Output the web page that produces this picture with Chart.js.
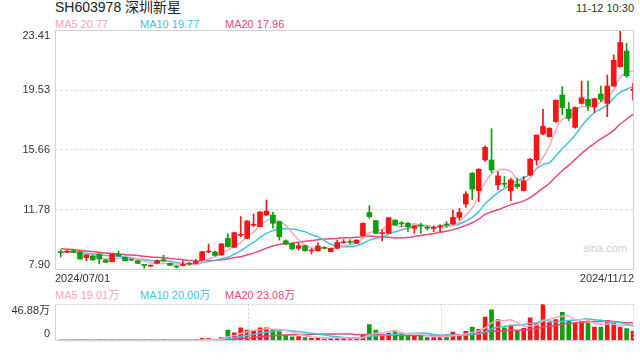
<!DOCTYPE html>
<html><head><meta charset="utf-8">
<script src="https://cdn.jsdelivr.net/npm/chart.js@4.4.0/dist/chart.umd.min.js"></script>
<style>
html,body{margin:0;padding:0;background:#fff;}
body{width:640px;height:360px;position:relative;overflow:hidden;font-family:"Liberation Sans","Noto Sans CJK SC",Arial,sans-serif;}
.t{position:absolute;white-space:nowrap;line-height:1;}
canvas{position:absolute;left:0;}
</style></head><body>
<div class="t" id="title" style="left:55px;top:0px;font-size:14px;color:#222;"></div>
<div class="t" id="time" style="right:6px;top:3px;font-size:11px;color:#333;"></div>
<div class="t" id="pl0" style="left:55px;top:19px;font-size:11px;"></div>
<div class="t" id="pl1" style="left:140px;top:19px;font-size:11px;"></div>
<div class="t" id="pl2" style="left:225px;top:19px;font-size:11px;"></div>
<div class="t" id="vl0" style="left:55px;top:290px;font-size:11px;"></div>
<div class="t" id="vl1" style="left:140px;top:290px;font-size:11px;"></div>
<div class="t" id="vl2" style="left:225px;top:290px;font-size:11px;"></div>
<div class="t" id="wm" style="left:583px;top:243px;font-size:11px;color:#cfcfcf;"></div>
<canvas id="price" width="640" height="290" style="top:0"></canvas>
<canvas id="vol" width="640" height="75" style="top:285px"></canvas>
<script>
// ---- data ----
const titleText = 'SH603978 深圳新星';
const timeText = '11-12 10:30';
const priceLegend = ['MA5 20.77', 'MA10 19.77', 'MA20 17.96'];
const volLegend = ['MA5 19.01万', 'MA10 20.00万', 'MA20 23.08万'];
const xTickLabels = ['2024/07/01', '2024/11/12'];
const priceTicks = [7.90, 11.78, 15.66, 19.53, 23.41];
const priceTickLabels = ['7.90', '11.78', '15.66', '19.53', '23.41'];
const volTicks = [0, 46.88];
const volTickLabels = ['0', '46.88万'];

const opens  = [9.06,9.06,9.15,9.08,8.70,8.80,8.93,8.55,8.44,8.93,8.72,8.56,8.50,8.24,8.15,8.33,8.52,8.33,8.13,8.19,8.30,8.33,8.55,9.06,9.07,8.87,9.95,9.37,10.14,9.95,10.79,10.70,11.45,11.45,11.03,9.79,9.62,9.30,9.47,9.13,9.15,9.32,9.09,9.30,9.66,9.70,9.62,10.12,11.61,11.09,10.25,10.27,11.13,10.90,10.92,10.60,10.76,10.62,10.58,10.68,10.83,10.87,11.30,12.16,14.15,13.03,15.01,15.01,13.40,13.47,13.03,13.46,13.03,14.04,15.01,16.69,16.52,17.49,19.21,18.29,17.12,18.67,18.93,18.42,19.27,18.67,19.79,21.04,22.05,19.52];
const highs  = [9.19,9.15,9.17,9.10,8.88,8.82,8.95,8.57,8.95,9.13,8.74,8.58,8.52,8.26,8.22,8.55,8.85,8.35,8.16,8.50,8.40,8.59,9.10,9.58,9.12,9.62,10.23,10.35,11.35,11.10,11.52,11.68,12.42,11.63,11.05,9.85,9.65,9.62,9.50,9.28,9.66,9.41,9.32,9.83,9.87,9.87,9.86,10.95,12.06,11.12,10.49,11.30,11.15,11.03,10.98,10.77,10.92,10.75,10.75,10.83,11.03,11.78,11.88,12.96,14.20,14.45,15.92,17.03,14.26,13.94,13.83,13.83,13.94,15.12,16.63,18.29,17.10,18.90,19.75,18.74,18.45,20.11,20.11,19.00,19.79,20.50,21.80,23.35,22.55,19.96];
const lows   = [8.74,9.00,9.02,8.60,8.50,8.53,8.29,8.38,8.42,8.78,8.48,8.50,8.31,8.01,8.12,8.30,8.48,8.18,8.02,8.16,8.20,8.31,8.52,9.02,8.80,8.85,9.38,9.35,10.05,9.92,10.70,10.68,11.43,10.60,9.83,9.55,9.22,9.19,9.12,8.94,9.12,9.26,9.07,9.28,9.62,9.58,9.60,10.10,11.24,10.25,9.79,10.25,10.79,10.70,10.38,10.27,10.27,10.49,10.38,10.36,10.66,10.85,11.13,11.95,12.44,12.32,14.91,14.19,13.07,13.29,12.38,13.18,13.00,13.98,14.69,16.63,16.48,17.43,17.92,17.56,17.06,18.62,18.20,18.07,18.78,17.81,19.75,21.00,20.35,18.88];
const closes = [9.02,9.08,9.04,8.61,8.87,8.55,8.61,8.40,8.93,8.80,8.50,8.54,8.33,8.20,8.17,8.50,8.50,8.20,8.10,8.21,8.28,8.44,9.08,9.08,8.84,9.58,9.41,10.31,10.16,11.07,10.81,11.65,11.71,10.92,10.05,9.58,9.26,9.47,9.15,9.15,9.45,9.30,9.30,9.68,9.68,9.68,9.83,10.92,11.35,10.27,10.27,11.28,10.81,10.88,10.70,10.75,10.74,10.60,10.60,10.70,10.81,11.30,11.63,12.81,13.12,14.41,15.83,14.36,13.98,13.44,13.72,13.29,13.66,15.06,16.62,17.18,17.06,18.87,18.40,17.70,18.40,19.03,18.50,18.97,18.93,19.79,21.45,22.60,20.45,19.55];
// volume in 万
const volumes = [1.6,1.2,1.0,1.8,1.3,1.2,1.7,1.0,1.6,1.4,1.2,0.9,1.1,1.4,0.9,1.3,1.5,1.0,0.9,1.2,0.9,1.5,3.8,3.8,2.5,4.7,14.1,10.6,16.8,14.1,13.5,16.8,16.8,14.7,12.1,7.5,5.6,5.9,4.7,3.8,4.7,2.9,3.8,4.7,4.1,4.1,2.9,7.8,20.9,14.1,6.8,10.3,13.1,9.4,7.1,7.1,7.1,4.7,4.7,6.2,7.8,11.5,7.8,12.5,17.8,15.0,30.3,39.6,27.2,16.8,20.3,13.5,16.2,29.5,22.8,46.88,23.4,27.2,36.5,25.6,22.8,24.4,22.5,17.8,17.8,26.2,22.5,17.8,15.9,12.5];
// closes / volumes of the 19 sessions before 2024/07/01 (for the moving averages)
const preCloses = [9.70,9.62,9.58,9.55,9.50,9.46,9.48,9.42,9.40,9.39,9.10,9.02,8.98,9.06,9.05,9.00,9.08,9.04,9.10];
const preVolumes = [1.4,1.6,1.3,1.5,1.2,1.8,1.4,1.3,1.6,1.5,1.2,1.4,1.7,1.3,1.5,1.2,1.6,1.4,1.3];

// ---- styles ----
const RED = '#f21616', GREEN = '#0e9e0e';
const C5 = '#f7a6c4', C10 = '#3fc4e0', C20 = '#ee457c';
const X_MIN = -0.88, X_MAX = 89.15;

document.getElementById('title').textContent = titleText;
document.getElementById('time').textContent = timeText;
[C5, C10, C20].forEach((c, k) => {
  const p = document.getElementById('pl' + k); p.textContent = priceLegend[k]; p.style.color = c;
  const v = document.getElementById('vl' + k); v.textContent = volLegend[k]; v.style.color = c;
});
document.getElementById('wm').textContent = 'sina.com';

function movingAvg(pre, vals, n) {
  const all = pre.concat(vals);
  return vals.map((_, i) => {
    const j = i + pre.length;
    let s = 0;
    for (let k = j - n + 1; k <= j; k++) s += all[k];
    return { x: i, y: s / n };
  });
}
const up = closes.map((c, i) => c >= opens[i]);
const candleColors = up.map(u => u ? RED : GREEN);

const framePlugin = {
  id: 'frame',
  afterDatasetsDraw(chart, args, opts) {
    const { ctx, chartArea: a } = chart;
    ctx.save();
    ctx.strokeStyle = '#d2d2d2';
    ctx.lineWidth = 1;
    const L = Math.round(a.left) + 0.5, R = Math.round(a.right) - 0.5, T = Math.round(a.top) + 0.5, B = Math.round(a.bottom) - 0.5;
    const seg = (x1, y1, x2, y2, dotted) => {
      ctx.setLineDash(dotted ? [2, 2] : []);
      ctx.strokeStyle = dotted ? '#cfcfcf' : '#d2d2d2';
      ctx.beginPath(); ctx.moveTo(x1, y1); ctx.lineTo(x2, y2); ctx.stroke();
    };
    const s = opts.sides;
    seg(L, T, R, T, s.top === 'dot');
    seg(L, B, R, B, s.bottom === 'dot');
    seg(L, T, L, B, s.left === 'dot');
    seg(R, T, R, B, s.right === 'dot');
    if (opts.vthirds) {
      for (let k = 1; k <= 2; k++) {
        const x = Math.round(a.left + (a.right - a.left) * k / 3) + 0.5;
        seg(x, T, x, B, true);
      }
    }
    ctx.restore();
  }
};

const commonX = {
  type: 'linear', min: X_MIN, max: X_MAX, bounds: 'data', offset: false,
  grid: { display: false, drawTicks: false }, border: { display: false }
};

// ---- price chart ----
new Chart(document.getElementById('price'), {
  type: 'bar',
  data: {
    datasets: [
      { type: 'bar', data: opens.map((o, i) => ({ x: i, y: [o, closes[i]] })), backgroundColor: candleColors,
        barThickness: 5, minBarLength: 1, grouped: false, order: 0 },
      { type: 'bar', data: lows.map((l, i) => ({ x: i, y: [l, highs[i]] })), backgroundColor: candleColors,
        barThickness: 1, grouped: false, order: 1 },
      { type: 'line', data: movingAvg(preCloses, closes, 5), borderColor: C5, borderWidth: 1.5, pointRadius: 0, tension: 0.4, order: 2 },
      { type: 'line', data: movingAvg(preCloses, closes, 10), borderColor: C10, borderWidth: 1.5, pointRadius: 0, tension: 0.4, order: 3 },
      { type: 'line', data: movingAvg(preCloses, closes, 20), borderColor: C20, borderWidth: 1.5, pointRadius: 0, tension: 0.4, order: 4 }
    ]
  },
  options: {
    responsive: false, animation: false, devicePixelRatio: 1,
    layout: { padding: { top: 30, right: 6, left: 0, bottom: 0 } },
    plugins: { legend: { display: false }, tooltip: { enabled: false },
      frame: { sides: { top: 'solid', bottom: 'solid', left: 'solid', right: 'solid' } } },
    scales: {
      x: Object.assign({}, commonX, {
        afterBuildTicks: s => { s.ticks = [{ value: X_MIN }, { value: X_MAX }]; },
        afterFit: s => { s.height = 20; },
        ticks: { align: 'inner', maxRotation: 0, autoSkip: false, padding: 2, color: '#333',
          font: { size: 11, family: '"Liberation Sans", Arial, sans-serif' }, callback: (v, i) => xTickLabels[i] }
      }),
      y: {
        type: 'linear', min: priceTicks[0], max: priceTicks[priceTicks.length - 1], bounds: 'data',
        afterBuildTicks: s => { s.ticks = priceTicks.map(v => ({ value: v })); },
        afterFit: s => { s.width = 55; },
        grid: { drawTicks: false, lineWidth: 1,
          color: c => (c.index === 0 || c.index === priceTicks.length - 1) ? 'rgba(0,0,0,0)' : '#dcdcdc' },
        border: { display: false, dash: [3, 2] },
        ticks: { padding: 5, autoSkip: false, color: '#333',
          font: { size: 11, lineHeight: 1.0, family: '"Liberation Sans", Arial, sans-serif' },
          callback: (v, i) => i === 0 ? [priceTickLabels[i], ''] : (i === priceTicks.length - 1 ? ['', priceTickLabels[i]] : priceTickLabels[i]) }
      }
    }
  },
  plugins: [framePlugin]
});

// ---- volume chart ----
const volColors = up.map(u => u ? RED : GREEN);
new Chart(document.getElementById('vol'), {
  type: 'bar',
  data: {
    datasets: [
      { type: 'bar', data: volumes.map((v, i) => ({ x: i, y: v })), backgroundColor: volColors,
        barThickness: 4, grouped: false, order: 3 },
      { type: 'line', data: movingAvg(preVolumes, volumes, 5), borderColor: C5, borderWidth: 1.5, pointRadius: 0, tension: 0.4, order: 0 },
      { type: 'line', data: movingAvg(preVolumes, volumes, 10), borderColor: C10, borderWidth: 1.5, pointRadius: 0, tension: 0.4, order: 1 },
      { type: 'line', data: movingAvg(preVolumes, volumes, 20), borderColor: C20, borderWidth: 1.5, pointRadius: 0, tension: 0.4, order: 2 }
    ]
  },
  options: {
    responsive: false, animation: false, devicePixelRatio: 1,
    layout: { padding: { top: 19, right: 6, left: 0, bottom: 5 } },
    plugins: { legend: { display: false }, tooltip: { enabled: false },
      frame: { sides: { top: 'dot', bottom: 'solid', left: 'solid', right: 'dot' }, vthirds: true } },
    scales: {
      x: Object.assign({}, commonX, { display: false }),
      y: {
        type: 'linear', min: volTicks[0], max: volTicks[1], bounds: 'data',
        afterBuildTicks: s => { s.ticks = volTicks.map(v => ({ value: v })); },
        afterFit: s => { s.width = 55; },
        grid: { display: false, drawTicks: false },
        border: { display: false },
        ticks: { padding: 5, autoSkip: false, color: '#333',
          font: { size: 11, lineHeight: 1.25, family: '"Liberation Sans", "Noto Sans CJK SC", Arial, sans-serif' },
          callback: (v, i) => i === 0 ? [volTickLabels[i], ''] : ['', volTickLabels[i]] }
      }
    }
  },
  plugins: [framePlugin]
});
</script>
</body></html>
